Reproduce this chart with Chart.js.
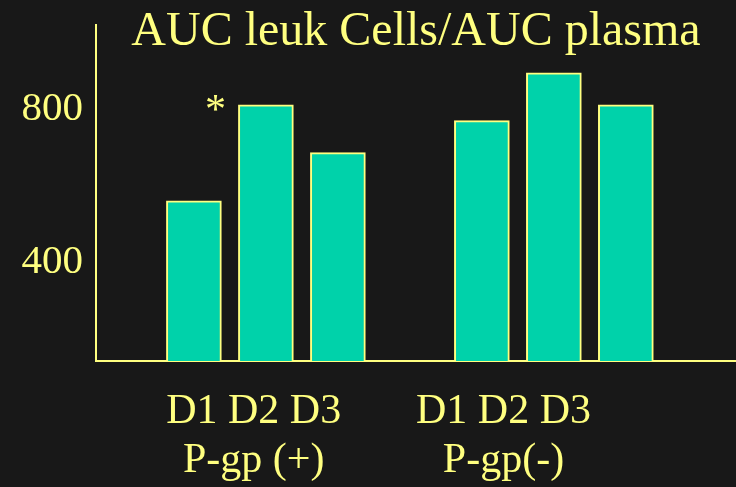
<!DOCTYPE html>
<html>
<head>
<meta charset="utf-8">
<script src="https://cdn.jsdelivr.net/npm/chart.js@4/dist/chart.umd.min.js"></script>
<style>
  html, body { margin: 0; padding: 0; background: #181818; }
  #wrap { width: 736px; height: 487px; }
</style>
</head>
<body>
<div id="wrap"><canvas id="aucChart"></canvas></div>
<script>
  'use strict'

  // AUC ratio per day, two groups with a gap slot between them
  var dayPos = [1, 2, 3, 5, 6, 7]
  var aucRatio = [552, 803, 678, 762, 887, 803]
  var sigMarks = ['', '*', '', '', '', '']
  var groupAt = [1.83, 5.3]
  var groupLabels = [['D1 D2 D3', 'P-gp (+)'], ['D1 D2 D3', 'P-gp(-)']]
  var yTicks = [400, 800]
  var titleText = 'AUC leuk Cells/AUC plasma'

  var yellow = '#ffff80'
  var teal = '#00d2aa'
  var serif = "'Liberation Serif', 'Times New Roman', serif"

  var overlay = {
    id: 'overlay',
    afterDraw: function (chart) {
      var c = chart.ctx
      var area = chart.chartArea
      c.save()
      c.fillStyle = yellow
      c.font = '48px ' + serif
      c.textAlign = 'center'
      c.textBaseline = 'alphabetic'
      c.fillText(titleText, (area.left + area.right) / 2, 45)

      // significance marks beside the bar tops
      var bars = chart.getDatasetMeta(0).data
      c.font = '42px ' + serif
      bars.forEach(function (bar, i) {
        if (!sigMarks[i]) return
        c.fillText(sigMarks[i], bar.x - bar.width / 2 - 23, bar.y + 18)
      })
      c.restore()
    }
  }

  var ctx = document.getElementById('aucChart')
  // eslint-disable-next-line no-unused-vars
  var aucChart = new Chart(ctx, {
    type: 'bar',
    data: {
      datasets: [{
        data: dayPos.map(function (x, i) { return { x: x, y: aucRatio[i] } }),
        backgroundColor: teal,
        borderColor: yellow,
        borderWidth: 2,
        barThickness: 55
      }]
    },
    options: {
      responsive: true,
      maintainAspectRatio: false,
      animation: false,
      layout: { padding: { top: 25, right: 0, left: 0, bottom: 0 } },
      plugins: {
        legend: { display: false },
        tooltip: { enabled: false }
      },
      scales: {
        x: {
          type: 'linear',
          offset: false,
          min: -0.36,
          max: 8.53,
          afterBuildTicks: function (scale) {
            scale.ticks = groupAt.map(function (v) { return { value: v } })
          },
          afterFit: function (scale) {
            scale.height = 126
            scale.paddingLeft = 0
            scale.paddingRight = 0
          },
          grid: { display: false, drawTicks: false },
          border: { display: true, color: yellow, width: 2 },
          ticks: {
            color: yellow,
            font: { family: serif, size: 42, lineHeight: 1.17 },
            padding: 26,
            maxRotation: 0,
            autoSkip: false,
            callback: function (value, index) { return groupLabels[index] }
          }
        },
        y: {
          min: 133,
          max: 1012,
          afterBuildTicks: function (scale) {
            scale.ticks = yTicks.map(function (v) { return { value: v } })
          },
          afterFit: function (scale) {
            scale.width = 96
            scale.paddingTop = 0
            scale.paddingBottom = 0
          },
          grid: { display: false, drawTicks: false },
          border: { display: true, color: yellow, width: 2 },
          ticks: {
            color: yellow,
            font: { family: serif, size: 41 },
            padding: 13,
            labelOffset: 3
          }
        }
      }
    },
    plugins: [overlay]
  })
</script>
</body>
</html>
